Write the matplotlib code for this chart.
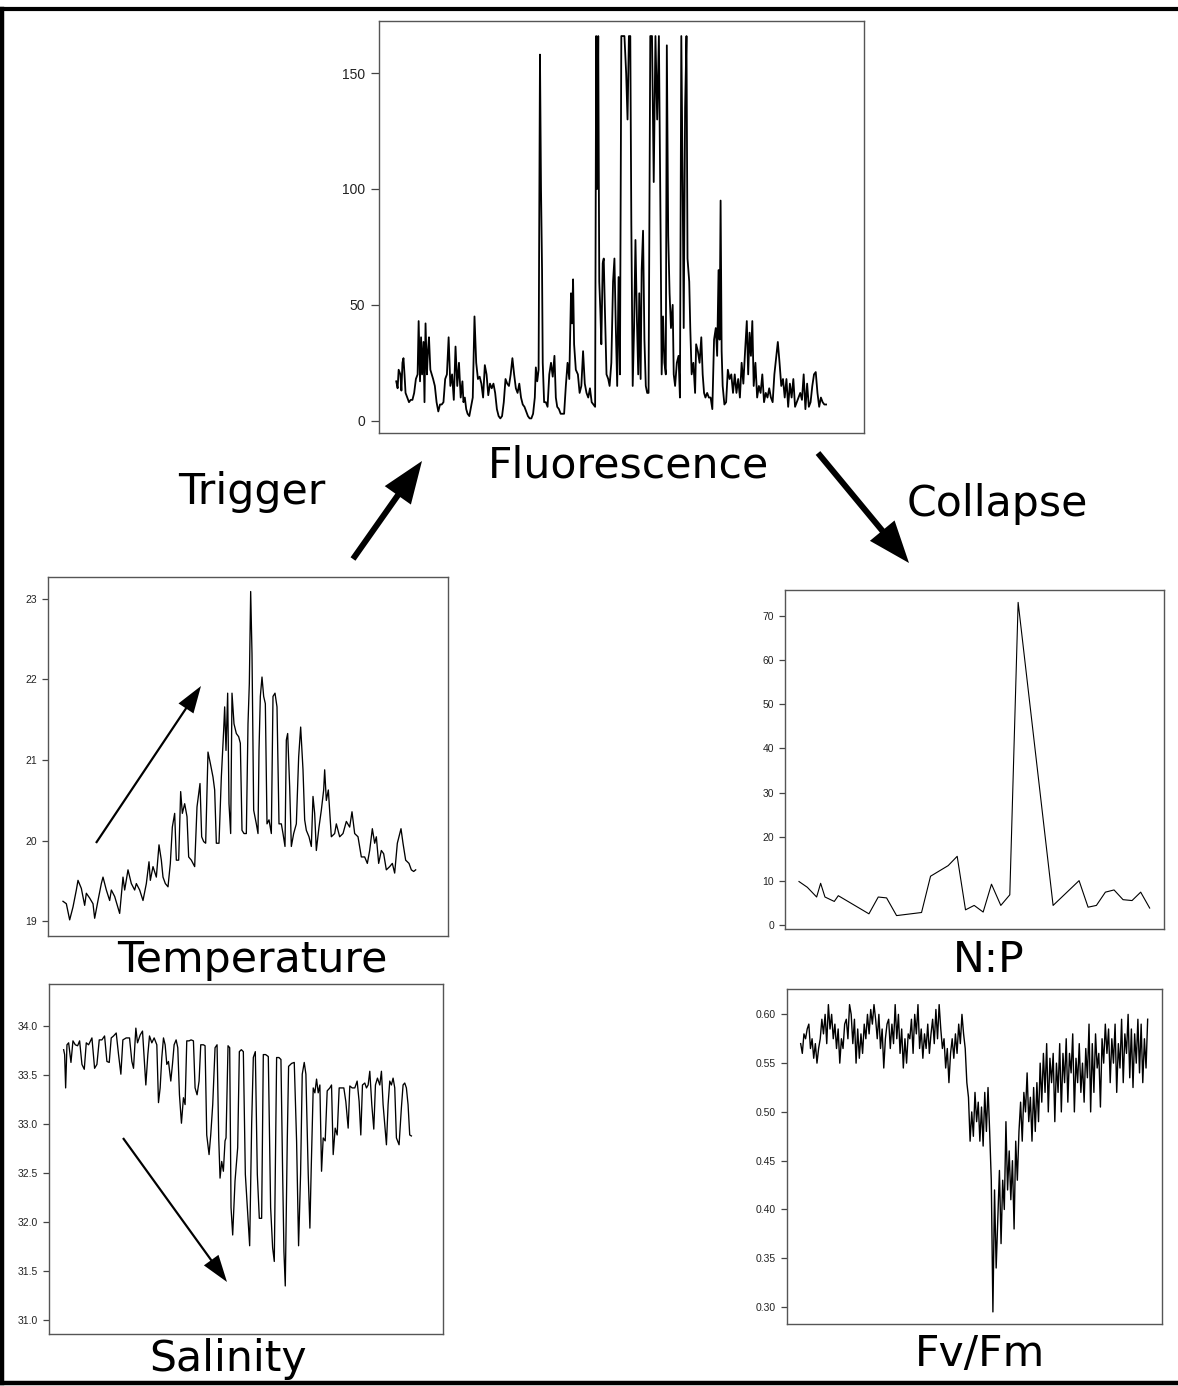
import numpy as np
import matplotlib
matplotlib.use("Agg")
import matplotlib.pyplot as plt
from matplotlib.patches import FancyArrow

# ---------------- data ----------------
fluor_t = [193,197,200,205,208,211,214,217,220,225,230,235,240,245,250,255,258,262,265,268,272,275,278,282,285,288,292,296,300,305,310,315,320,325,330,335,340,345,350,355,360,365,370,375,380,385,388,392,396,400,405,410,415,420,425,430,435,440,445,450,455,460,465,470,475,480,485,490,495,500,505,510,515,520,525,530,535,540,545,550,555,560,565,570,575,580,585,590,595,598,602,606,610,613,616,618,622,627,632,637,642,647,652,656,660,665,670,675,680,685,690,695,700,703,706,709,714,720,725,730,735,740,745,750,755,760,765,770,773,776,779,782,785,788,792,795,798,803,808,812,817,822,826,830,834,838,842,846,855,860,864,868,872,875,879,883,887,891,895,898,902,905,909,913,917,921,925,930,935,940,945,950,955,960,963,967,971,975,978,982,986,990,995,998,1002,1007,1012,1016,1020,1024,1027,1031,1035,1038,1043,1046,1050,1055,1060,1063,1068,1073,1078,1082,1086,1090,1095,1100,1105,1110,1115,1120,1124,1128,1131,1134,1137,1140,1145,1150,1155,1160,1165,1170,1175,1180,1185,1190,1195,1200,1205,1210,1214,1218,1222,1226,1230,1235,1240,1245,1250,1255,1260,1265,1270,1275,1280,1285,1290,1295,1300,1305,1310,1315,1320,1325,1330,1335,1340,1345,1350,1355,1360,1365,1370,1375,1380,1385,1390,1395,1400,1405,1410,1415,1420,1425,1430,1435,1440]
fluor_v = [17,14,22,20,13,25,27,20,12,10,8,9,9,12,18,20,43,17,36,20,34,8,42,20,30,36,22,20,18,15,8,4,7,7,8,18,20,36,15,20,9,32,15,25,10,17,8,10,5,3,2,6,10,45,25,18,19,16,10,24,20,11,16,14,16,12,5,2,1,2,8,18,16,15,20,27,20,14,12,16,10,7,6,4,2,1,1,3,10,23,17,22,158,100,65,25,8,8,6,20,25,19,28,10,6,5,3,3,3,15,25,18,55,42,61,33,22,20,12,15,30,16,12,10,14,8,7,6,166,100,166,60,48,33,68,70,50,20,18,15,25,60,70,40,15,62,20,166,166,150,130,166,166,85,15,40,78,45,20,55,18,65,82,35,15,12,12,166,166,103,166,130,166,80,20,45,25,20,162,80,55,40,50,20,15,25,28,10,166,100,40,135,166,70,60,40,20,25,12,33,30,25,36,20,12,10,12,10,10,5,35,40,28,65,35,95,30,15,7,8,22,18,20,12,20,12,18,10,25,16,30,43,20,38,28,43,15,25,10,15,12,20,8,12,10,14,10,8,20,27,34,25,15,18,10,18,6,16,10,18,6,8,10,12,9,20,5,16,6,8,15,20,21,12,6,10,8,7,7]
fluor_ticks = [0, 50, 100, 150]

temp_t = [190,200,210,220,230,235,245,255,260,270,280,285,295,305,310,320,330,335,345,360,370,375,385,395,405,410,420,430,440,448,452,460,470,478,485,490,497,505,512,518,525,530,537,543,548,555,562,567,575,585,592,601,606,612,618,625,632,640,645,650,658,665,672,675,679,684,688,693,697,703,710,717,722,727,733,740,745,749,753,757,762,770,775,778,782,787,792,797,802,808,815,820,826,832,838,845,850,856,860,864,870,875,882,890,897,903,910,915,920,928,935,940,945,950,958,965,972,975,980,986,990,995,1005,1010,1020,1030,1040,1050,1057,1065,1075,1085,1095,1103,1110,1118,1125,1130,1137,1145,1152,1160,1170,1178,1185,1193,1198,1204,1210,1218,1228,1235,1242,1248]
temp_v = [19.25,19.22,19.02,19.18,19.39,19.51,19.41,19.20,19.35,19.29,19.22,19.04,19.26,19.47,19.55,19.39,19.26,19.39,19.31,19.10,19.55,19.39,19.64,19.47,19.39,19.47,19.39,19.26,19.47,19.74,19.51,19.68,19.55,19.95,19.76,19.55,19.47,19.43,19.72,20.17,20.34,19.76,19.76,20.61,20.34,20.46,20.30,19.80,19.76,19.68,20.42,20.71,20.05,19.99,19.97,21.10,20.96,20.79,20.63,19.97,19.97,20.79,21.37,21.66,21.12,21.83,20.46,20.09,21.83,21.45,21.33,21.29,21.21,20.13,20.09,20.09,21.45,21.95,23.09,22.32,20.38,20.21,20.09,21.12,21.79,22.03,21.79,21.70,20.21,20.26,20.09,21.79,21.83,21.66,20.21,20.21,20.09,19.93,21.25,21.33,20.67,19.93,20.09,20.21,21.04,21.41,20.88,20.26,20.13,20.05,19.93,20.55,20.34,19.88,20.17,20.38,20.63,20.88,20.50,20.63,20.38,20.05,20.09,20.21,20.05,20.09,20.24,20.17,20.36,20.09,20.05,19.80,19.80,19.72,19.88,20.15,19.97,20.05,19.72,19.88,19.84,19.64,19.68,19.72,19.60,19.97,20.05,20.15,19.97,19.76,19.72,19.64,19.62,19.64]
temp_ticks = [19, 20, 21, 22, 23]

sal_t = [190,193,196,200,205,212,218,225,232,238,245,252,258,265,275,283,290,297,305,313,320,327,333,340,348,355,362,368,378,388,395,400,407,412,420,427,432,437,443,448,455,462,470,475,480,485,490,495,500,505,512,517,522,528,533,538,544,550,555,560,567,573,580,585,591,597,602,610,615,620,627,632,638,645,651,656,660,665,670,675,678,684,689,693,698,705,713,718,724,730,736,741,745,749,755,760,766,772,778,785,790,797,805,812,818,823,830,837,843,848,852,856,862,866,875,883,890,896,902,907,913,918,925,930,934,940,945,950,955,960,965,970,976,982,990,995,1000,1006,1012,1018,1025,1032,1038,1045,1050,1057,1065,1072,1078,1083,1088,1095,1100,1105,1110,1116,1122,1127,1133,1140,1145,1150,1155,1160,1165,1170,1175,1180,1185,1190,1198,1205,1210,1215,1220,1225,1230,1235]
sal_v = [33.76,33.71,33.37,33.81,33.83,33.63,33.85,33.81,33.80,33.85,33.61,33.56,33.83,33.81,33.88,33.57,33.61,33.86,33.86,33.90,33.64,33.63,33.88,33.90,33.93,33.71,33.51,33.86,33.88,33.88,33.64,33.57,33.98,33.83,33.91,33.95,33.68,33.40,33.71,33.90,33.83,33.88,33.81,33.22,33.37,33.68,33.88,33.81,33.61,33.64,33.44,33.61,33.81,33.86,33.78,33.30,33.01,33.27,33.20,33.85,33.85,33.86,33.85,33.37,33.30,33.44,33.81,33.81,33.80,32.89,32.69,32.89,33.20,33.78,33.81,32.86,32.45,32.62,32.52,32.83,32.86,33.80,33.78,32.15,31.87,32.42,32.76,33.74,33.76,33.74,32.49,32.21,31.98,31.76,33.00,33.68,33.74,32.49,32.04,32.04,33.71,33.71,33.69,32.15,31.74,31.60,33.68,33.68,33.66,32.52,31.70,31.35,32.83,33.59,33.62,33.63,32.83,31.76,32.49,33.51,33.63,33.51,32.49,31.94,32.55,33.37,33.32,33.46,33.32,33.40,32.52,32.86,32.83,33.34,33.37,33.40,32.69,32.96,32.89,33.37,33.37,33.37,33.23,32.96,33.39,33.37,33.37,33.44,33.23,32.89,33.40,33.42,33.37,33.40,33.54,33.20,32.95,33.40,33.47,33.40,33.54,33.20,33.00,32.79,33.20,33.44,33.40,33.47,33.37,32.86,32.79,33.17,33.40,33.42,33.37,33.20,32.89,32.88]
sal_ticks = [31.0, 31.5, 32.0, 32.5, 33.0, 33.5, 34.0]
sal_tick_labels = ["31.0", "31.5", "32.0", "32.5", "33.0", "33.5", "34.0"]

np_t = [237,262,290,302,315,343,355,447,475,500,530,605,632,685,712,737,763,790,815,843,870,895,1000,1078,1105,1130,1157,1183,1210,1237,1263,1290]
np_v = [9.9,8.6,6.4,9.5,6.4,5.4,6.7,2.6,6.4,6.2,2.2,2.9,11.1,13.5,15.6,3.5,4.5,3.0,9.3,4.5,6.9,73.0,4.5,10.1,4.1,4.5,7.5,8.0,5.8,5.6,7.5,3.9]
np_ticks = [0, 10, 20, 30, 40, 50, 60, 70]

fvfm_v = [0.57,0.56,0.58,0.575,0.585,0.59,0.565,0.575,0.555,0.57,0.55,0.565,
          0.575,0.595,0.58,0.60,0.57,0.61,0.585,0.60,0.575,0.59,0.565,0.585,0.55,0.575,
          0.565,0.59,0.595,0.575,0.61,0.60,0.57,0.595,0.55,
          0.585,0.555,0.58,0.56,0.59,0.575,0.60,0.58,
          0.605,0.59,0.61,0.595,0.575,0.60,
          0.565,0.585,0.545,0.575,0.59,0.595,
          0.565,0.59,0.57,0.61,0.575,0.60,
          0.56,0.585,0.545,0.575,0.55,0.58,
          0.575,0.595,0.56,0.60,0.58,0.61,0.565,0.585,
          0.555,0.58,0.565,0.59,0.56,0.58,
          0.595,0.57,0.605,0.575,0.61,0.585,
          0.565,0.575,0.545,0.565,0.53,0.56,0.575,0.555,
          0.58,0.56,0.59,0.57,0.60,0.58,
          0.565,0.53,0.515,
          0.47,0.50,0.475,0.52,0.49,0.51,0.47,0.505,0.465,0.52,0.48,0.525,
          0.48,0.43,0.295,0.42,0.34,0.39,0.44,0.365,0.43,0.40,0.49,0.42,0.46,0.41,0.45,0.38,0.47,0.43,0.48,0.51,0.47,0.52,0.50,0.54,0.49,0.515,0.47,0.525,0.48,0.53,
          0.49,0.55,0.51,0.56,0.52,0.57,0.50,0.555,0.53,0.56,
          0.49,0.55,0.52,0.57,0.50,0.56,0.53,0.575,0.51,0.56,0.54,0.58,0.50,0.555,0.53,0.57,0.52,0.55,0.51,0.565,
          0.535,0.59,0.50,0.57,0.52,0.58,0.545,0.56,0.505,0.575,
          0.55,0.59,0.56,0.585,0.53,0.575,0.55,0.59,0.52,0.57,0.545,0.595,0.53,0.58,0.56,0.60,0.535,0.585,0.525,0.58,0.55,0.595,0.54,0.59,0.53,0.575,0.545,0.595]
fvfm_ticks = [0.30, 0.35, 0.40, 0.45, 0.50, 0.55, 0.60]
fvfm_tick_labels = ["0.30", "0.35", "0.40", "0.45", "0.50", "0.55", "0.60"]

# ---------------- figure ----------------
W, H = 1178, 1386
fig = plt.figure(figsize=(W / 100, H / 100), dpi=100)
fig.patch.set_facecolor("white")


def add_axes_px(l, t, r, b, **kw):
    return fig.add_axes([l / W, 1 - b / H, (r - l) / W, (b - t) / H], **kw)


def style(ax, ticks, labels, fs, ticklen):
    ax.set_xticks([])
    ax.set_yticks(ticks)
    ax.set_yticklabels(labels if labels is not None else [str(t) for t in ticks])
    ax.tick_params(axis="y", length=ticklen, width=0.9, color="#444444",
                   labelsize=fs, labelcolor="#222222", pad=4)
    for lab in ax.get_yticklabels():
        lab.set_family("Liberation Sans")
    for s in ax.spines.values():
        s.set_color("#555555")
        s.set_linewidth(1.0)


# Fluorescence
ax_f = add_axes_px(379, 21, 864, 433)
ax_f.plot(fluor_t, fluor_v, color="black", lw=1.3)
ax_f.set_xlim(143, 1550)
ax_f.set_ylim(-5.3, 172.5)
style(ax_f, fluor_ticks, None, 10, 6)

# Temperature
ax_t = add_axes_px(48, 577, 448, 936)
ax_t.plot(temp_t, temp_v, color="black", lw=0.95)
ax_t.set_xlim(145, 1345)
ax_t.set_ylim(18.82, 23.27)
style(ax_t, temp_ticks, None, 7.5, 4)

# Salinity
ax_s = add_axes_px(49, 984, 443, 1334)
ax_s.plot(sal_t, sal_v, color="black", lw=0.95)
ax_s.set_xlim(146, 1330)
ax_s.set_ylim(30.86, 34.43)
style(ax_s, sal_ticks, sal_tick_labels, 7.5, 4)

# N:P
ax_n = add_axes_px(785, 590, 1164, 929)
ax_n.plot(np_t, np_v, color="black", lw=0.8)
ax_n.set_xlim(195, 1333)
ax_n.set_ylim(-0.83, 75.8)
style(ax_n, np_ticks, None, 7.5, 4)

# Fv/Fm
ax_v = add_axes_px(787, 989, 1162, 1324)
ax_v.plot(np.arange(len(fvfm_v)), fvfm_v, color="black", lw=1.0)
ax_v.set_xlim(-8.4, len(fvfm_v) - 1 + 8.8)
ax_v.set_ylim(0.2826, 0.626)
style(ax_v, fvfm_ticks, fvfm_tick_labels, 7.5, 4)

# ---------------- overlay: border, labels, arrows ----------------
ov = fig.add_axes([0, 0, 1, 1], facecolor="none")
ov.set_xlim(0, W)
ov.set_ylim(H, 0)
ov.axis("off")

ov.plot([2, 2], [8.5, 1383], color="black", lw=3.2, solid_capstyle="projecting")
ov.plot([2, W], [8.5, 8.5], color="black", lw=3.0, solid_capstyle="projecting")
ov.plot([2, W], [1383, 1383], color="black", lw=3.2, solid_capstyle="projecting")

lab_kw = dict(family="DejaVu Sans", color="black", ha="center", va="baseline")
fs_lab = 30.7
ov.text(629, 478, "Fluorescence", fontsize=fs_lab, **lab_kw)
ov.text(252, 504, "Trigger", fontsize=fs_lab, **lab_kw)
ov.text(997, 516, "Collapse", fontsize=fs_lab, **lab_kw)
ov.text(252, 972, "Temperature", fontsize=fs_lab, **lab_kw)
ov.text(228, 1371, "Salinity", fontsize=fs_lab, **lab_kw)
ov.text(989, 972, "N:P", fontsize=fs_lab, **lab_kw)
ov.text(980, 1366, "Fv/Fm", fontsize=fs_lab, **lab_kw)


def arrow(x0, y0, x1, y1, width, hw, hl):
    ov.add_patch(FancyArrow(x0, y0, x1 - x0, y1 - y0, width=width, head_width=hw,
                            head_length=hl, length_includes_head=True,
                            color="black", lw=0))


arrow(353, 559, 422, 461, 6, 32, 42)
arrow(818, 453, 909, 563, 6, 32, 42)
arrow(96, 843, 201, 686, 2.2, 18, 27)
arrow(123, 1138, 227, 1282, 2.2, 18, 27)

fig.savefig("out.png", dpi=100, facecolor="white")
